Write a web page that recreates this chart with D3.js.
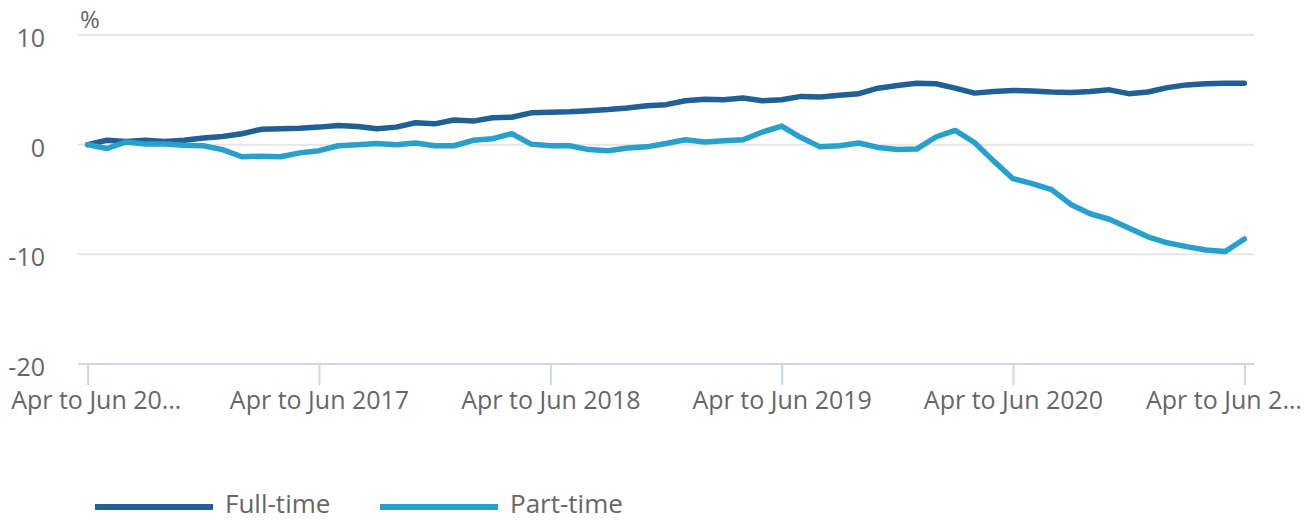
<!DOCTYPE html>
<html>
<head>
<meta charset="utf-8">
<script src="https://cdn.jsdelivr.net/npm/d3@7"></script>
<style>
  body { margin: 0; background: #fff; }
  svg { display: block; font-family: "Open Sans", sans-serif; }
</style>
</head>
<body>
<svg id="chart" width="1315" height="521"></svg>
<script>
const months = ["Jan", "Feb", "Mar", "Apr", "May", "Jun", "Jul", "Aug", "Sep", "Oct", "Nov", "Dec"];

// rolling three-month periods, Apr to Jun 2016 .. Apr to Jun 2021
const periods = d3.range(61).map((i) => {
  const s = 3 + i;
  const e = s + 2;
  return `${months[s % 12]} to ${months[e % 12]} ${2016 + Math.floor(e / 12)}`;
});

const fullTime = [
  0, 0.4, 0.3, 0.4, 0.3, 0.4, 0.6, 0.75, 1.0, 1.4,
  1.45, 1.5, 1.6, 1.75, 1.65, 1.45, 1.6, 2.0, 1.9, 2.25,
  2.15, 2.45, 2.5, 2.9, 2.95, 3.0, 3.1, 3.2, 3.35, 3.55,
  3.65, 4.0, 4.15, 4.1, 4.25, 4.0, 4.1, 4.4, 4.35, 4.5,
  4.65, 5.15, 5.4, 5.6, 5.55, 5.15, 4.7, 4.85, 4.95, 4.9,
  4.8, 4.75, 4.85, 5.0, 4.65, 4.8, 5.2, 5.45, 5.55, 5.6, 5.6
];

const partTime = [
  0, -0.35, 0.25, 0.05, 0.05, -0.05, -0.1, -0.45, -1.1, -1.05,
  -1.1, -0.75, -0.55, -0.1, 0.0, 0.1, 0.0, 0.15, -0.1, -0.1,
  0.4, 0.55, 1.0, 0.05, -0.1, -0.1, -0.45, -0.55, -0.3, -0.2,
  0.1, 0.45, 0.25, 0.35, 0.45, 1.15, 1.7, 0.65, -0.2, -0.1,
  0.15, -0.25, -0.45, -0.4, 0.7, 1.3, 0.2, -1.5, -3.1, -3.55,
  -4.1, -5.45, -6.3, -6.8, -7.6, -8.4, -8.95, -9.3, -9.6, -9.75, -8.6
];

const series = [
  { name: "Full-time", values: fullTime, color: "#206095" },
  { name: "Part-time", values: partTime, color: "#27a0cc" },
];

const yTicks = [10, 0, -10, -20];
const tickEvery = 12;

const svg = d3.select("#chart");
const plotLeft = 78, plotRight = 1254, plotTop = 35, plotBottom = 364;

const x = d3.scalePoint().domain(periods).range([plotLeft, plotRight]).padding(0.5);
const y = d3.scaleLinear().domain([-20, 10]).range([plotBottom, plotTop]);

// gridlines
svg.append("g")
  .selectAll("line")
  .data(yTicks.filter((d) => d !== -20))
  .enter()
  .append("line")
  .attr("x1", plotLeft)
  .attr("x2", plotRight)
  .attr("y1", (d) => y(d))
  .attr("y2", (d) => y(d))
  .attr("stroke", "#e6e6e6")
  .attr("stroke-width", 2);

// y labels
svg.append("g")
  .selectAll("text")
  .data(yTicks)
  .enter()
  .append("text")
  .attr("x", 45)
  .attr("y", (d) => y(d) + 12)
  .attr("text-anchor", "end")
  .attr("font-size", 25)
  .attr("fill", "#666")
  .text((d) => d);

svg.append("text")
  .attr("x", 80)
  .attr("y", 28)
  .attr("font-size", 24)
  .attr("fill", "#666")
  .text("%");

// x axis: first and last labels are clipped with an ellipsis, like the original
const last = periods.length - 1;
const shortLabel = (d) => {
  const i = periods.indexOf(d);
  if (i === 0) return d.slice(0, 13) + "…";
  if (i === last) return d.slice(0, 12) + "…";
  return d;
};
const xAxis = d3.axisBottom(x)
  .tickValues(periods.filter((_, i) => i % tickEvery === 0))
  .tickSize(21)
  .tickPadding(6)
  .tickFormat(shortLabel);

const gx = svg.append("g")
  .attr("transform", `translate(0,${plotBottom})`)
  .call(xAxis);
gx.select(".domain").remove();
gx.append("line")
  .attr("x1", plotLeft)
  .attr("x2", plotRight)
  .attr("stroke", "#ccd6eb")
  .attr("stroke-width", 2);
gx.selectAll(".tick line").attr("stroke", "#ccd6eb").attr("stroke-width", 2);
gx.selectAll(".tick text")
  .attr("font-size", 25)
  .attr("font-family", "'Open Sans', sans-serif")
  .attr("fill", "#666");
gx.selectAll(".tick text")
  .filter((d) => periods.indexOf(d) === last)
  .attr("text-anchor", "end")
  .attr("x", 57);
gx.selectAll(".tick text")
  .filter((d) => periods.indexOf(d) === 0)
  .attr("text-anchor", "start")
  .attr("x", -77);

// lines
const line = d3.line()
  .x((d, i) => x(periods[i]))
  .y((d) => y(d));

svg.append("g")
  .selectAll("path")
  .data(series)
  .enter()
  .append("path")
  .attr("d", (d) => line(d.values))
  .attr("fill", "none")
  .attr("stroke", (d) => d.color)
  .attr("stroke-width", 5.5)
  .attr("stroke-linejoin", "round")
  .attr("stroke-linecap", "round");

// legend
const legendX = [95, 380];
const legend = svg.append("g")
  .selectAll("g")
  .data(series)
  .enter()
  .append("g")
  .attr("transform", (_, i) => `translate(${legendX[i]},507)`);
legend.append("line")
  .attr("x1", 0)
  .attr("x2", 118)
  .attr("stroke", (d) => d.color)
  .attr("stroke-width", 6);
legend.append("text")
  .attr("x", 130)
  .attr("y", 6)
  .attr("font-size", 26)
  .attr("fill", "#666")
  .text((d) => d.name);
</script>
</body>
</html>
